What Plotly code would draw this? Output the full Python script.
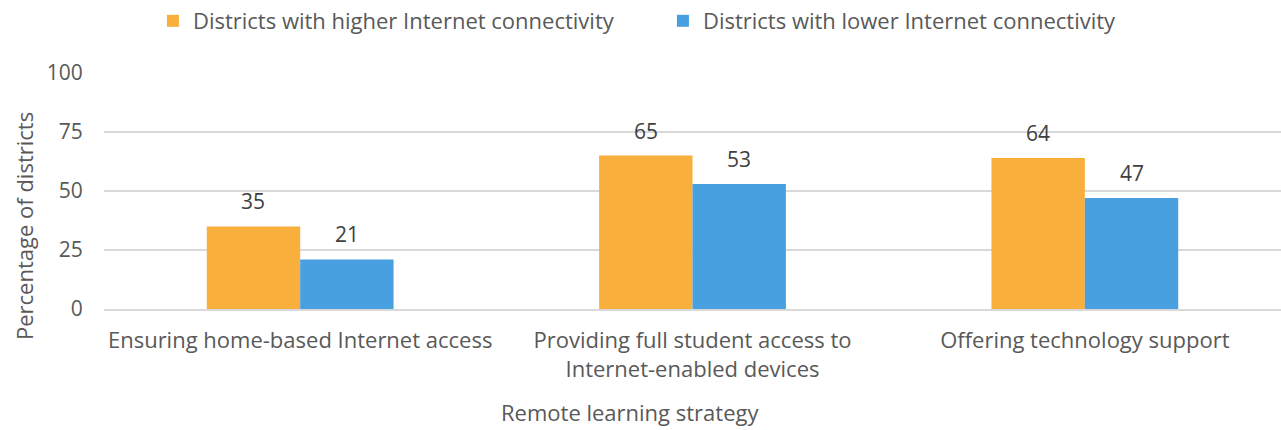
import plotly.graph_objects as go

categories = ["Ensuring home-based Internet access",
              "Providing full student access to<br>Internet-enabled devices",
              "Offering technology support"]
higher = [35, 65, 64]
lower = [21, 53, 47]
series_names = ["Districts with higher Internet connectivity",
                "Districts with lower Internet connectivity"]
series_colors = ["#F9AF3B", "#48A0E0"]
y_ticks = [0, 25, 50, 75, 100]

FONT = "Open Sans"
TXT = "#595959"
SZ = 22

ML, MR, MT, MB = 104, 0, 73, 121
W, H = 1281, 430
BARGAP = 0.524
plot_w = W - ML - MR
bar_px = plot_w / len(categories) * (1 - BARGAP) / 2

fig = go.Figure()
annotations = []
for i, (vals, name, col) in enumerate(zip([higher, lower], series_names, series_colors)):
    fig.add_trace(go.Bar(x=categories, y=vals, name=name,
                         marker=dict(color=col, line=dict(width=0))))
    for c, v in zip(categories, vals):
        annotations.append(dict(x=c, y=v, xref="x", yref="y", text=str(v),
                                showarrow=False, xanchor="center", yanchor="middle",
                                xshift=(i - 0.5) * bar_px, yshift=25,
                                font=dict(family=FONT, size=21, color="#404040")))

annotations += [
    dict(text="Percentage of districts", textangle=-90, xref="paper", yref="paper",
         x=(24 - ML) / plot_w, y=(309 - 226) / 236, xanchor="center", yanchor="middle",
         showarrow=False, font=dict(family=FONT, size=SZ, color=TXT)),
    dict(text="Remote learning strategy", xref="paper", yref="paper",
         x=(630 - ML) / plot_w, y=(309 - 412) / 236, xanchor="center", yanchor="middle",
         showarrow=False, font=dict(family=FONT, size=SZ, color=TXT)),
]

fig.update_layout(
    width=W, height=H,
    margin=dict(l=ML, r=MR, t=MT, b=MB),
    paper_bgcolor="white", plot_bgcolor="white",
    barmode="group", bargap=BARGAP, bargroupgap=0,
    font=dict(family=FONT, size=SZ, color=TXT),
    showlegend=True,
    legend=dict(orientation="h", x=0.5175, xanchor="center", xref="container",
                y=1, yref="container", yanchor="top",
                font=dict(family=FONT, size=SZ, color=TXT),
                itemwidth=30, traceorder="normal",
                entrywidth=465, entrywidthmode="pixels"),
    xaxis=dict(showgrid=False, showline=True, linecolor="#D9D9D9", linewidth=1.5,
               ticks="outside", ticklen=11, tickcolor="rgba(0,0,0,0)",
               tickfont=dict(family=FONT, size=SZ, color=TXT)),
    yaxis=dict(range=[0, 100], tickvals=y_ticks, showgrid=True,
               gridcolor="#D9D9D9", gridwidth=1.5, zeroline=False,
               showline=False, ticks="outside", ticklen=16,
               tickcolor="rgba(0,0,0,0)",
               tickfont=dict(family=FONT, size=21, color=TXT)),
    annotations=annotations,
)

fig.write_html("out.html")
